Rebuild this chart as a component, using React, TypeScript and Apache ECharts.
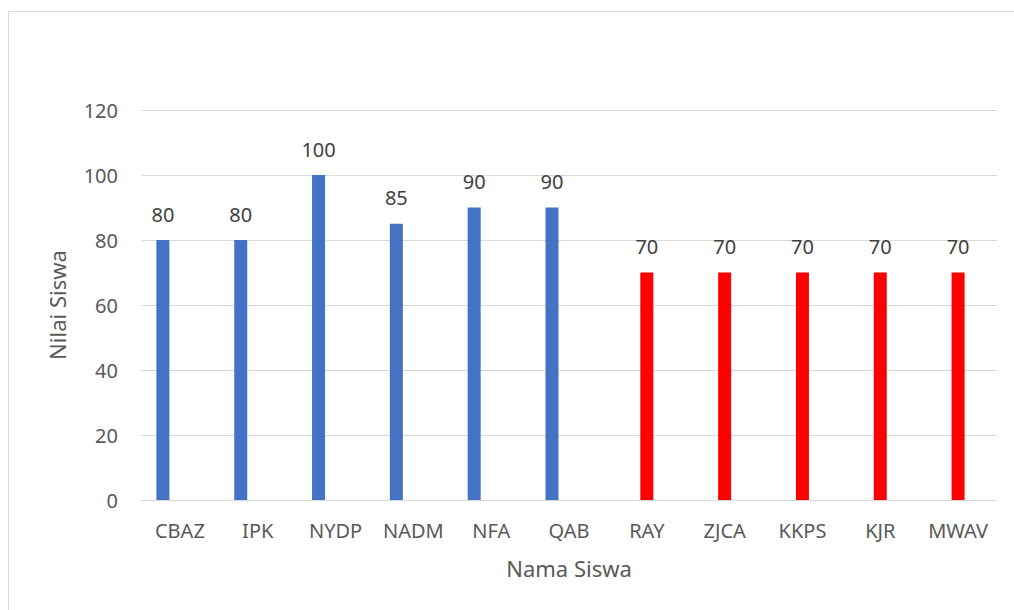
import React, { useEffect, useRef } from "react";
import * as echarts from "echarts";

const categories = ["CBAZ", "IPK", "NYDP", "NADM", "NFA", "QAB", "RAY", "ZJCA", "KKPS", "KJR", "MWAV"];
const passedValues = [80, 80, 100, 85, 90, 90, null, null, null, null, null];
const remedialValues = [null, null, null, null, null, null, 70, 70, 70, 70, 70];
const yTicks = { min: 0, max: 120, interval: 20 };

const BLUE = "#4472C4";
const RED = "#FF0000";
const TEXT = "#595959";
const LABEL = "#404040";
const GRID = "#D9D9D9";
const FONT = "'Noto Sans', 'Open Sans', sans-serif";

export default function App() {
  const ref = useRef<HTMLDivElement>(null);
  useEffect(() => {
    if (!ref.current) return;
    const chart = echarts.init(ref.current, undefined, { renderer: "svg" });
    const label = {
      show: true,
      position: "top",
      distance: 16,
      color: LABEL,
      fontSize: 20,
      fontFamily: FONT,
    };
    chart.setOption({
      animation: false,
      textStyle: { fontFamily: FONT },
      graphic: [
        {
          type: "rect",
          shape: { x: 8.5, y: 11.5, width: 1020, height: 620 },
          style: { fill: "none", stroke: GRID, lineWidth: 1 },
          silent: true,
        },
      ],
      grid: { left: 141, right: 17, top: 110, bottom: 110, containLabel: false },
      xAxis: {
        type: "category",
        data: categories,
        name: "Nama Siswa",
        nameLocation: "middle",
        nameGap: 57,
        nameTextStyle: { color: TEXT, fontSize: 22, fontFamily: FONT },
        axisLine: { lineStyle: { color: GRID, width: 1 } },
        axisTick: { show: false },
        axisLabel: { color: TEXT, fontSize: 20, margin: 20, interval: 0, hideOverlap: false, fontFamily: FONT },
      },
      yAxis: {
        type: "value",
        min: yTicks.min,
        max: yTicks.max,
        interval: yTicks.interval,
        name: "Nilai Siswa",
        nameLocation: "middle",
        nameGap: 73,
        nameRotate: 90,
        nameTextStyle: { color: TEXT, fontSize: 22, fontFamily: FONT },
        axisLine: { show: false },
        axisTick: { show: false },
        axisLabel: { color: TEXT, fontSize: 20, margin: 23, fontFamily: FONT },
        splitLine: { lineStyle: { color: GRID, width: 1 } },
      },
      series: [
        {
          name: "Lulus",
          type: "bar",
          barWidth: 13,
          barGap: "30.8%",
          data: passedValues,
          itemStyle: { color: BLUE },
          label,
        },
        {
          name: "Remedial",
          type: "bar",
          barWidth: 13,
          barGap: "30.8%",
          data: remedialValues,
          itemStyle: { color: RED },
          label,
        },
        {
          name: "spacer",
          type: "bar",
          barWidth: 13,
          barGap: "30.8%",
          data: categories.map(() => null),
          silent: true,
        },
      ],
    });
    return () => chart.dispose();
  }, []);
  return (
    <div
      ref={ref}
      style={{ position: "fixed", left: 0, top: 0, width: 1014, height: 610, background: "#fff" }}
    />
  );
}
